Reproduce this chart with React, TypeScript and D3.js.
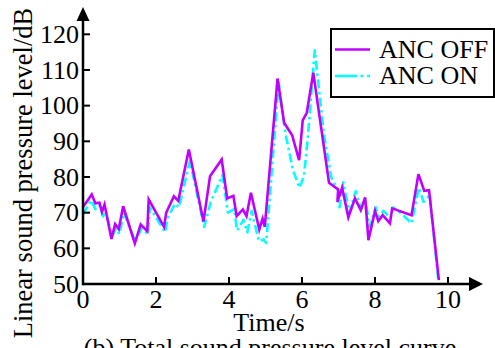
import React from "react";
import * as d3 from "d3";

const offTime = [0, 0.24, 0.34, 0.45, 0.52, 0.59, 0.78, 0.88, 0.98, 1.1, 1.42, 1.58, 1.76, 1.8, 2.22, 2.28, 2.49, 2.61, 2.9, 3.3, 3.48, 3.8, 3.95, 4.12, 4.21, 4.38, 4.48, 4.6, 4.83, 4.92, 4.98, 5.33, 5.51, 5.73, 5.92, 6.02, 6.13, 6.31, 6.74, 6.99, 6.97, 7.1, 7.27, 7.45, 7.61, 7.73, 7.82, 8.0, 8.09, 8.21, 8.41, 8.47, 9.0, 9.19, 9.35, 9.48, 9.75];
const offLevel = [71.6, 75.1, 72.6, 72.8, 70.2, 72.3, 62.6, 66.8, 65.4, 71.8, 61.4, 66.7, 64.8, 73.7, 66.0, 70.0, 74.6, 73.3, 87.7, 67.5, 80.2, 84.9, 74.0, 74.7, 69.0, 70.9, 69.0, 75.6, 65.3, 68.3, 66.0, 107.6, 95.2, 91.7, 84.7, 95.9, 98.0, 109.2, 78.4, 76.5, 73.0, 77.0, 68.7, 74.0, 70.7, 74.3, 62.3, 70.5, 67.6, 69.3, 67.0, 71.2, 69.3, 80.8, 76.1, 76.3, 51.1];

const onTime = [0, 0.22, 0.34, 0.45, 0.55, 0.62, 0.8, 0.9, 1.0, 1.12, 1.43, 1.6, 1.78, 1.83, 2.25, 2.32, 2.52, 2.63, 2.93, 3.32, 3.5, 3.82, 3.97, 4.14, 4.22, 4.4, 4.5, 4.62, 4.82, 4.95, 5.02, 5.36, 5.55, 5.75, 5.93, 6.05, 6.15, 6.35, 6.6, 6.8, 7.0, 7.03, 7.13, 7.3, 7.47, 7.62, 7.75, 7.85, 8.02, 8.1, 8.23, 8.43, 8.5, 8.75, 9.0, 9.2, 9.33, 9.5, 9.73];
const onLevel = [69.5, 73.5, 71.0, 72.0, 69.0, 70.5, 63.5, 65.5, 64.0, 70.0, 62.0, 65.5, 64.0, 71.5, 64.5, 68.5, 72.5, 71.5, 84.5, 66.0, 73.0, 80.5, 70.0, 71.0, 65.0, 68.0, 64.5, 70.5, 62.0, 62.5, 61.5, 106.5, 92.0, 82.0, 77.0, 80.0, 90.0, 115.5, 92.0, 80.0, 76.0, 71.5, 78.5, 70.0, 76.0, 71.0, 73.0, 66.0, 71.5, 69.0, 70.5, 68.5, 71.5, 69.5, 67.0, 77.0, 73.0, 75.0, 51.5];

const xTicks = [0, 2, 4, 6, 8, 10];
const yTicks = [50, 60, 70, 80, 90, 100, 110, 120];
const seriesNames = ["ANC OFF", "ANC ON"];
const xLabel = "Time/s";
const yLabel = "Linear sound pressure level/dB";
const caption = "(b) Total sound pressure level curve";

const OFF_COLOR = "#C000FF";
const ON_COLOR = "#00FFFF";
const FONT = "'Liberation Serif', 'Times New Roman', serif";

export default function App() {
  const W = 495, H = 348;
  const x = d3.scaleLinear().domain([0, 10]).range([83, 448]);
  const y = d3.scaleLinear().domain([50, 120]).range([284, 34.3]);
  const line = d3.line<[number, number]>().x(d => x(d[0])).y(d => y(d[1]));
  const offPts: [number, number][] = offTime.map((t, i) => [t, offLevel[i]]);
  const onPts: [number, number][] = onTime.map((t, i) => [t, onLevel[i]]);
  const x0 = x(0), y0 = y(50);
  const dash = "9,3.5,2.5,3.5";

  return (
    <svg width={W} height={H} style={{ position: "absolute", left: 0, top: 0, background: "#fff" }} fontFamily={FONT}>
      <rect x={0} y={0} width={W} height={H} fill="#fff" />
      {/* data */}
      <path d={line(onPts) || ""} fill="none" stroke={ON_COLOR} strokeWidth={2.6} strokeDasharray={dash} strokeLinejoin="round" />
      <path d={line(offPts) || ""} fill="none" stroke={OFF_COLOR} strokeWidth={2.6} strokeLinejoin="miter" />
      {/* axes */}
      <line x1={x0} y1={y0} x2={474} y2={y0} stroke="#000" strokeWidth={2.5} />
      <path d={`M${483},${y0} L${469},${y0 - 7} L${469},${y0 + 7} Z`} fill="#000" />
      <line x1={x0} y1={y0 + 1.2} x2={x0} y2={18} stroke="#000" strokeWidth={2.5} />
      <path d={`M${x0},${7} L${x0 - 6.5},${21} L${x0 + 6.5},${21} Z`} fill="#000" />
      {xTicks.map(t => (
        <g key={"xt" + t}>
          {t !== 0 && <line x1={x(t)} x2={x(t)} y1={y0} y2={y0 - 7} stroke="#000" strokeWidth={2} />}
          <text x={x(t)} y={308} fontSize={26} textAnchor="middle">{t}</text>
        </g>
      ))}
      {yTicks.map(v => (
        <g key={"yt" + v}>
          {v !== 50 && <line x1={x0} x2={x0 + 7} y1={y(v)} y2={y(v)} stroke="#000" strokeWidth={2} />}
          <text x={79} y={y(v)} dy="0.34em" fontSize={26} textAnchor="end">{v}</text>
        </g>
      ))}
      <text x={269} y={331} fontSize={26} textAnchor="middle">{xLabel}</text>
      <text x={270} y={356} fontSize={26} textAnchor="middle">{caption}</text>
      <text transform={`translate(32,${173}) rotate(-90)`} fontSize={26.5} textAnchor="middle">{yLabel}</text>
      {/* legend */}
      <rect x={331} y={29} width={163} height={68} fill="#fff" stroke="#000" strokeWidth={2} />
      <line x1={335} x2={370} y1={49.5} y2={49.5} stroke={OFF_COLOR} strokeWidth={2.6} />
      <line x1={335} x2={370} y1={76} y2={76} stroke={ON_COLOR} strokeWidth={2.6} strokeDasharray="22,3.5,3,3.5" />
      <text x={379} y={57.5} fontSize={26}>{seriesNames[0]}</text>
      <text x={379} y={83.5} fontSize={26}>{seriesNames[1]}</text>
    </svg>
  );
}
